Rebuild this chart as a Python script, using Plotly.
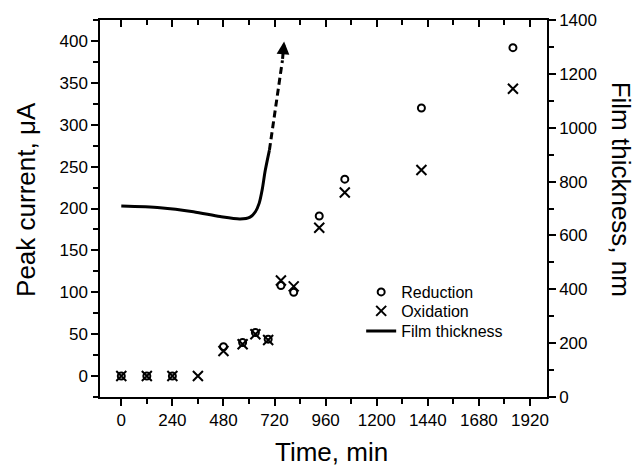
import plotly.graph_objects as go

# Peak current data (µA) vs time (min)
red_time = [0, 120, 240, 480, 570, 630, 690, 750, 810, 930, 1050, 1410, 1840]
red_current = [0, 0, 0, 35, 40, 52, 44, 108, 100, 191, 235, 320, 392]
ox_time = [0, 120, 240, 360, 480, 570, 630, 690, 750, 810, 930, 1050, 1410, 1840]
ox_current = [0, 0, 0, 0, 30, 38, 50, 43, 114, 107, 177, 219, 246, 343]

# Film thickness (nm) vs time (min)
film_time = [0, 182, 339, 464, 558, 605, 630, 648, 662, 676, 696]
film_nm = [709, 703, 688, 670, 661, 668, 688, 720, 770, 840, 917]
film_ext_time = [696, 727, 757]
film_ext_nm = [917, 1090, 1250]
arrow_tip = (765, 1320)

x_ticks = [0, 240, 480, 720, 960, 1200, 1440, 1680, 1920]

FONT = "Liberation Sans, Arial, sans-serif"

fig = go.Figure()
fig.add_trace(go.Scatter(x=film_time, y=film_nm, yaxis="y2", mode="lines",
                         line=dict(color="black", width=3, shape="spline", smoothing=0.8),
                         name="Film thickness", legend="legend3"))
fig.add_trace(go.Scatter(x=film_ext_time, y=film_ext_nm, yaxis="y2", mode="lines",
                         line=dict(color="black", width=3, dash="7px,4px"),
                         showlegend=False, hoverinfo="skip"))
fig.add_trace(go.Scatter(x=red_time, y=red_current, mode="markers", name="Reduction",
                         legend="legend",
                         marker=dict(symbol="circle-open", size=7, color="black",
                                     line=dict(width=2, color="black"))))
fig.add_trace(go.Scatter(x=ox_time, y=ox_current, mode="markers", name="Oxidation",
                         legend="legend2",
                         marker=dict(symbol="x-thin-open", size=10, color="black",
                                     line=dict(width=2, color="black"))))
# dummy trace on top axis
fig.add_trace(go.Scatter(x=[None], y=[None], xaxis="x2", showlegend=False))

fig.add_annotation(x=arrow_tip[0], y=arrow_tip[1], xref="x", yref="y2",
                   ax=film_ext_time[-1], ay=film_ext_nm[-1], axref="x", ayref="y2",
                   showarrow=True, arrowhead=2, arrowsize=0.85, arrowwidth=3,
                   arrowcolor="black", text="")

axis_common = dict(showline=True, linecolor="black", linewidth=1.5, showgrid=False,
                   zeroline=False, tickcolor="black", tickwidth=1.5,
                   tickfont=dict(family=FONT, size=17, color="black"))

legend_common = dict(xanchor="left", yanchor="middle", bgcolor="rgba(0,0,0,0)",
                     borderwidth=0, font=dict(family=FONT, size=16, color="black"))
LX = (361 - 100) / 446.7

fig.update_layout(
    width=635, height=466,
    margin=dict(l=100, r=88, t=20, b=69),
    paper_bgcolor="white", plot_bgcolor="white",
    font=dict(family=FONT, color="black"),
    xaxis=dict(range=[-100, 2000], tickvals=x_ticks, ticks="outside", ticklen=7,
               minor=dict(dtick=120, tick0=0, ticks="outside", ticklen=5,
                          tickcolor="black", tickwidth=1.5),
               **axis_common),
    xaxis2=dict(range=[-100, 2000], overlaying="x", side="top", tickvals=x_ticks,
                ticks="inside", ticklen=7, showticklabels=False,
                minor=dict(dtick=120, tick0=0, ticks="inside", ticklen=5,
                           tickcolor="black", tickwidth=1.5),
                **axis_common),
    yaxis=dict(range=[-25, 425], dtick=50, tick0=0, ticks="outside", ticklen=7,
               minor=dict(dtick=25, tick0=0, ticks="outside", ticklen=5,
                          tickcolor="black", tickwidth=1.5),
               **axis_common),
    yaxis2=dict(range=[0, 1400], dtick=200, tick0=0, overlaying="y", side="right",
                ticks="outside", ticklen=7,
                minor=dict(dtick=100, tick0=0, ticks="outside", ticklen=5,
                           tickcolor="black", tickwidth=1.5),
                **axis_common),
    legend=dict(x=LX, y=(397 - 292) / 377, **legend_common),
    legend2=dict(x=LX, y=(397 - 311) / 377, **legend_common),
    legend3=dict(x=LX, y=(397 - 331) / 377, **legend_common),
    showlegend=True,
)

fig.add_annotation(text="Time, min", xref="paper", yref="paper",
                   x=(331 - 100) / 446.7, y=(397 - 452) / 377,
                   showarrow=False, xanchor="center", yanchor="middle",
                   font=dict(family=FONT, size=26, color="black"))
fig.add_annotation(text="Peak current, μA", xref="paper", yref="paper",
                   x=(26 - 100) / 446.7, y=(397 - 199) / 377, textangle=-90,
                   showarrow=False, xanchor="center", yanchor="middle",
                   font=dict(family=FONT, size=26, color="black"))
fig.add_annotation(text="Film thickness, nm", xref="paper", yref="paper",
                   x=(621 - 100) / 446.7, y=(397 - 189) / 377, textangle=90,
                   showarrow=False, xanchor="center", yanchor="middle",
                   font=dict(family=FONT, size=26, color="black"))

fig.write_html("out.html")
